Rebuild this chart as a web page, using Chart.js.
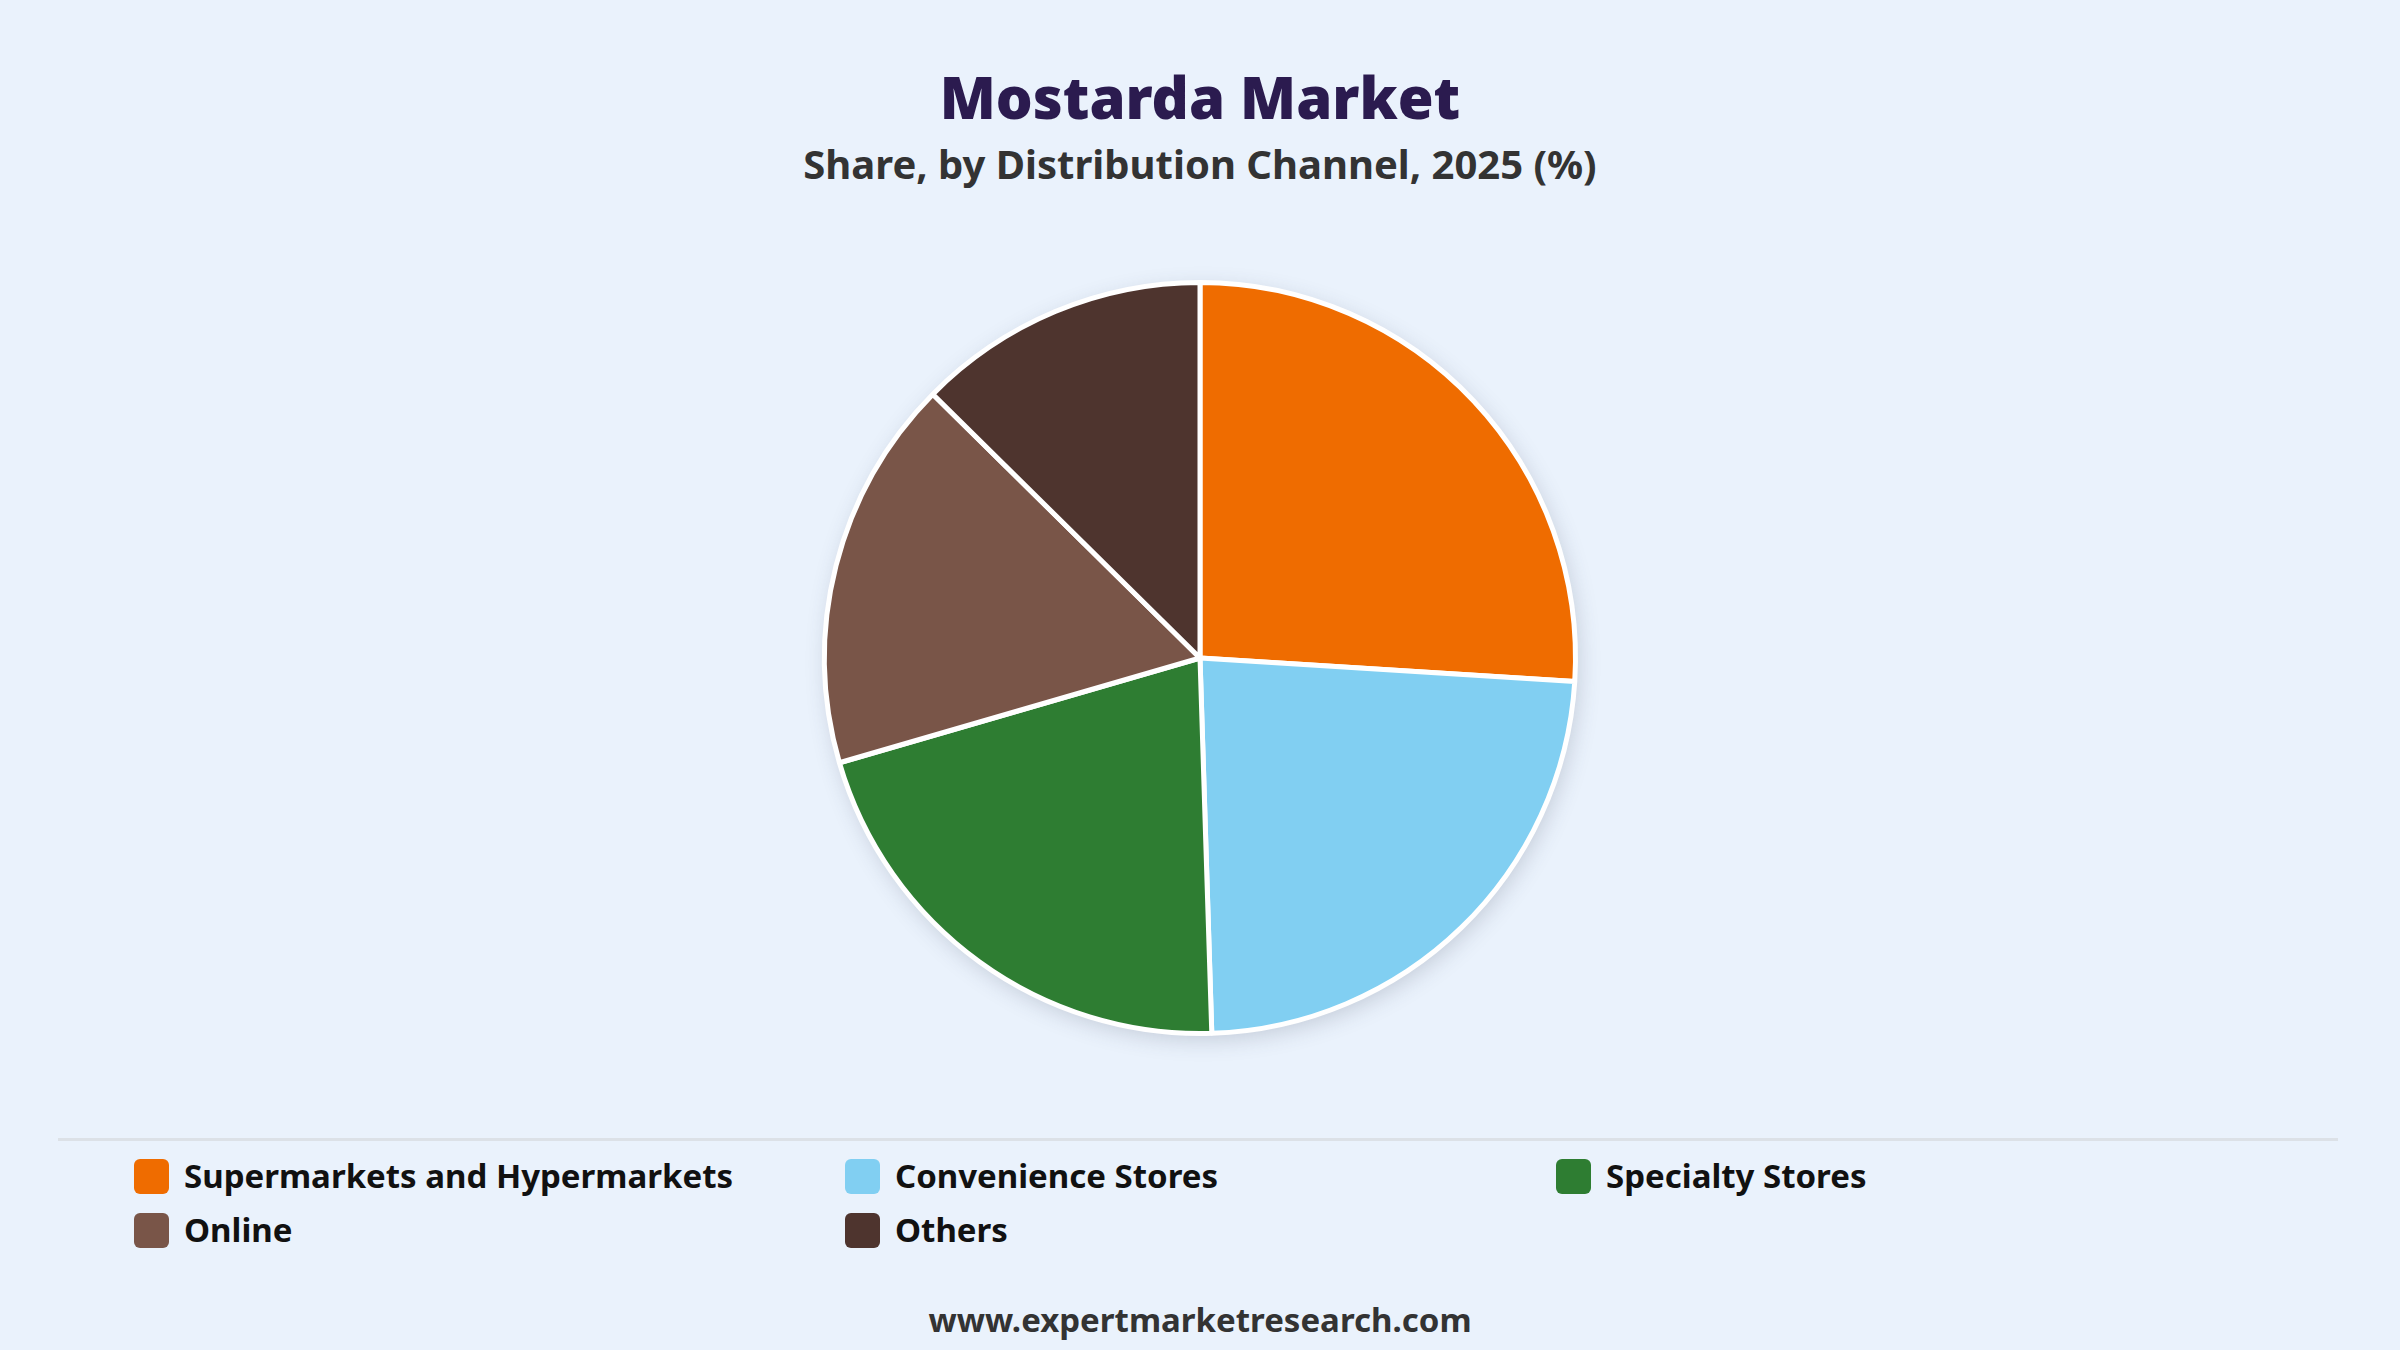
<!DOCTYPE html>
<html>
<head>
<meta charset="utf-8">
<script src="https://cdn.jsdelivr.net/npm/chart.js@4.4.1/dist/chart.umd.min.js"></script>
<style>
  html, body { margin:0; padding:0; }
  body { width:2400px; height:1350px; background:#EAF2FC; position:relative; overflow:hidden; font-family:"Noto Sans", "Open Sans", sans-serif; }
  #title { position:absolute; left:0; width:2400px; top:68px; text-align:center; font-size:58px; line-height:58px; font-weight:900; color:#2B1B4F; }
  #subtitle { position:absolute; left:0; width:2400px; top:144px; text-align:center; font-size:40px; line-height:40px; font-weight:700; color:#333333; }
  #pieWrap { position:absolute; left:750px; top:208px; width:900px; height:900px; }
  #sep { position:absolute; left:58px; width:2280px; top:1138px; height:3px; background:#DCE1E7; }
  #legend { position:absolute; left:134px; top:1158px; display:grid; grid-template-columns:711px 711px 711px; row-gap:18px; }
  .item { display:flex; align-items:center; height:36px; }
  .box { width:35px; height:35px; border-radius:6px; margin-right:15px; flex:none; }
  .lbl { font-size:33px; font-weight:700; color:#111111; line-height:36px; white-space:nowrap; }
  #footer { position:absolute; left:0; width:2400px; top:1303px; text-align:center; font-size:33px; line-height:33px; font-weight:700; color:#333333; }
</style>
</head>
<body>
<div id="title">Mostarda Market</div>
<div id="subtitle">Share, by Distribution Channel, 2025 (%)</div>
<div id="pieWrap"><canvas id="c" width="900" height="900"></canvas></div>
<div id="sep"></div>
<div id="legend"></div>
<div id="footer">www.expertmarketresearch.com</div>
<script>
const categories = ["Supermarkets and Hypermarkets", "Convenience Stores", "Specialty Stores", "Online", "Others"];
const shares = [26.0, 23.5, 21.0, 16.9, 12.6];
const colors = ["#EF6C00", "#81CFF2", "#2E7D32", "#795548", "#4E342E"];

const legendEl = document.getElementById("legend");
categories.forEach((name, i) => {
  const it = document.createElement("div");
  it.className = "item";
  const b = document.createElement("span");
  b.className = "box";
  b.style.background = colors[i];
  const t = document.createElement("span");
  t.className = "lbl";
  t.textContent = name;
  it.appendChild(b); it.appendChild(t);
  legendEl.appendChild(it);
});

const shadowPlugin = {
  id: "pieShadow",
  beforeDatasetsDraw(chart) {
    const meta = chart.getDatasetMeta(0);
    if (!meta.data.length) return;
    const a = meta.data[0];
    const ctx = chart.ctx;
    ctx.save();
    ctx.shadowColor = "rgba(60,70,90,0.22)";
    ctx.shadowBlur = 22;
    ctx.shadowOffsetX = 3;
    ctx.shadowOffsetY = 6;
    ctx.fillStyle = "#ffffff";
    ctx.beginPath();
    ctx.arc(a.x, a.y, a.outerRadius, 0, Math.PI * 2);
    ctx.fill();
    ctx.restore();
  }
};

new Chart(document.getElementById("c"), {
  type: "pie",
  data: {
    labels: categories,
    datasets: [{
      data: shares,
      backgroundColor: colors,
      borderColor: "#ffffff",
      borderWidth: 5
    }]
  },
  options: {
    responsive: false,
    animation: false,
    devicePixelRatio: 1,
    layout: { padding: 72 },
    plugins: {
      legend: { display: false },
      tooltip: { enabled: false },
      title: { display: false }
    }
  },
  plugins: [shadowPlugin]
});
</script>
</body>
</html>
